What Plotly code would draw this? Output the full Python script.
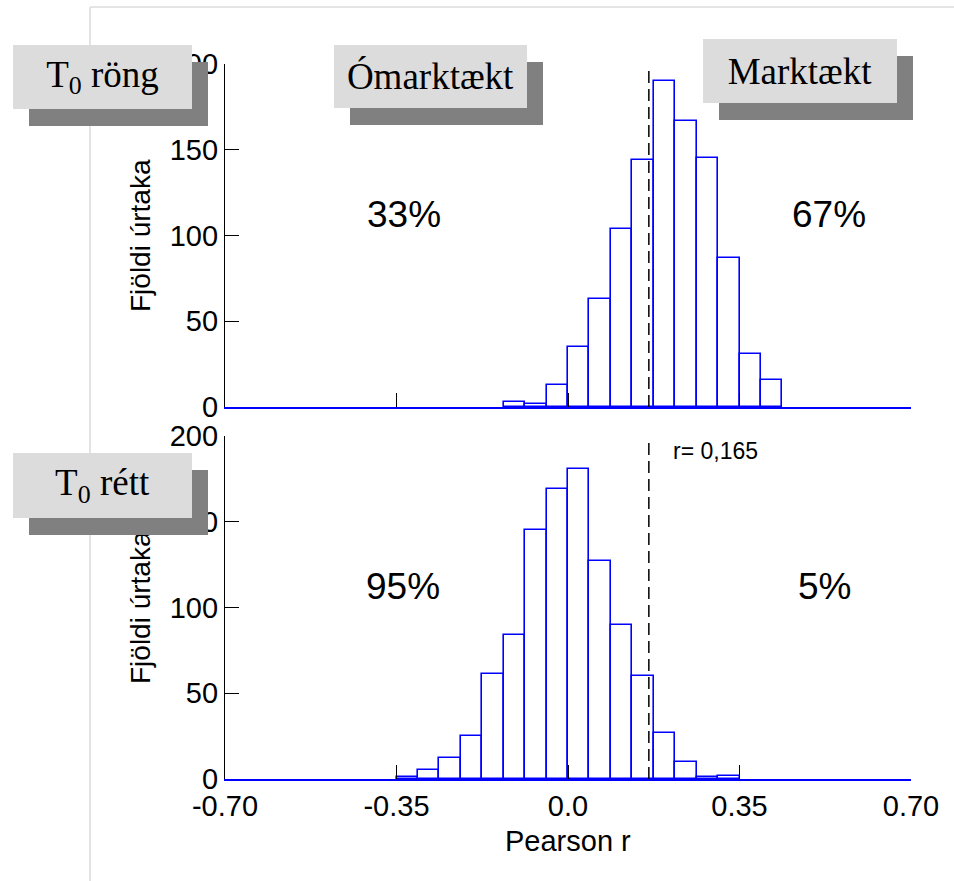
import plotly.graph_objects as go

# ---- data ----
bin_width = 0.04375
top_first_edge = -0.13125
top_counts = [3, 2, 13, 35, 63, 104, 144, 190, 167, 145, 87, 31, 16]
bottom_first_edge = -0.35
bottom_counts = [1, 5, 12, 25, 61, 84, 145, 169, 181, 127, 90, 60, 27, 10, 1, 2]
r_crit = 0.165
x_tickvals = [-0.70, -0.35, 0.0, 0.35, 0.70]
x_ticktext = ["-0.70", "-0.35", "0.0", "0.35", "0.70"]
y_tickvals = [0, 50, 100, 150, 200]
top_pcts = ["33%", "67%"]
bottom_pcts = ["95%", "5%"]
box_labels = ["T<sub>0</sub> röng", "Ómarktækt", "Marktækt", "T<sub>0</sub> rétt"]

top_x = [top_first_edge + (i + 0.5) * bin_width for i in range(len(top_counts))]
bot_x = [bottom_first_edge + (i + 0.5) * bin_width for i in range(len(bottom_counts))]

W, H = 954, 881
L, R, T, B = 225, 43, 64, 102
PW, PH = W - L - R, H - T - B


def px(xp):
    return (xp - L) / PW


def py(yp):
    return (H - B - yp) / PH


SANS = "Liberation Sans, Arial, sans-serif"
SERIF = "Liberation Serif, Times New Roman, serif"
BLUE = "#0000ff"

fig = go.Figure()
bar_style = dict(marker=dict(color="white", line=dict(color=BLUE, width=1.6)),
                 width=bin_width, showlegend=False, hoverinfo="skip")
fig.add_trace(go.Bar(x=top_x, y=top_counts, xaxis="x", yaxis="y", **bar_style))
fig.add_trace(go.Bar(x=bot_x, y=bottom_counts, xaxis="x2", yaxis="y2", **bar_style))

xax = dict(range=[-0.70, 0.70], tickvals=x_tickvals, ticktext=x_ticktext,
           ticks="inside", ticklen=14, tickwidth=1.2, tickcolor="black",
           showline=True, linecolor=BLUE, linewidth=2, showgrid=False, zeroline=False,
           tickfont=dict(family=SANS, size=29, color="black"))
yax = dict(range=[0, 200], tickvals=y_tickvals, ticks="inside", ticklen=14,
           tickwidth=1.2, tickcolor="black", showline=True, linecolor="black",
           linewidth=1.2, showgrid=False, zeroline=False,
           tickfont=dict(family=SANS, size=29, color="black"))

split_top = py(407)
split_bot = py(436)
fig.update_layout(
    width=W, height=H,
    margin=dict(l=L, r=R, t=T, b=B),
    paper_bgcolor="white", plot_bgcolor="white",
    bargap=0,
    xaxis=dict(xax, anchor="y", showticklabels=False),
    yaxis=dict(yax, domain=[split_top, 1]),
    xaxis2=dict(xax, anchor="y2"),
    yaxis2=dict(yax, domain=[0, split_bot]),
)

shapes = []
# light frame lines
shapes.append(dict(type="line", xref="paper", yref="paper", x0=px(90), x1=px(90),
                   y0=py(7), y1=py(H + 5), line=dict(color="#e4e4e4", width=2), layer="below"))
shapes.append(dict(type="line", xref="paper", yref="paper", x0=px(90), x1=px(W + 5),
                   y0=py(7), y1=py(7), line=dict(color="#e4e4e4", width=2), layer="below"))
# dashed critical lines
shapes.append(dict(type="line", xref="x", yref="y", x0=r_crit, x1=r_crit, y0=0, y1=198,
                   line=dict(color="black", width=1.5, dash="12px,6px")))
shapes.append(dict(type="line", xref="x2", yref="y2", x0=r_crit, x1=r_crit, y0=0, y1=198,
                   line=dict(color="black", width=1.5, dash="12px,6px")))
fig.update_layout(shapes=shapes)

ann = []
# y-axis titles
for yc in (236, 608):
    ann.append(dict(xref="paper", yref="paper", x=px(140), y=py(yc), text="Fjöldi úrtaka",
                    textangle=-90, showarrow=False, xanchor="center", yanchor="middle",
                    font=dict(family=SANS, size=28, color="black")))
# x-axis title
ann.append(dict(xref="paper", yref="paper", x=px(568), y=py(841), text="Pearson r",
                showarrow=False, xanchor="center", yanchor="middle",
                font=dict(family=SANS, size=29, color="black")))
# percentages
pct_font = dict(family=SANS, size=37, color="black")
ann.append(dict(xref="x", yref="y", x=-0.335, y=112, text=top_pcts[0], showarrow=False, font=pct_font))
ann.append(dict(xref="x", yref="y", x=0.532, y=112, text=top_pcts[1], showarrow=False, font=pct_font))
ann.append(dict(xref="x2", yref="y2", x=-0.337, y=112, text=bottom_pcts[0], showarrow=False, font=pct_font))
ann.append(dict(xref="x2", yref="y2", x=0.524, y=112, text=bottom_pcts[1], showarrow=False, font=pct_font))
# r label
ann.append(dict(xref="x2", yref="y2", x=0.21, y=191, text="r= 0,165", showarrow=False,
                xanchor="left", yanchor="middle", font=dict(family=SANS, size=23, color="black")))

# label boxes: (left, top, right, bottom) in pixels
boxes = [(13, 45, 192, 109), (334, 45, 527, 108), (703, 39, 897, 103), (13, 453, 192, 518)]
for (x0, y0, x1, y1) in boxes:
    ann.append(dict(xref="paper", yref="paper", x=px(x0 + 16), y=py(y0 + 17), text=" ",
                    showarrow=False, xanchor="left", yanchor="top", width=x1 - x0,
                    height=y1 - y0, bgcolor="#808080", borderwidth=0, borderpad=0))
for (x0, y0, x1, y1), lab in zip(boxes, box_labels):
    ann.append(dict(xref="paper", yref="paper", x=px(x0), y=py(y0), text=lab,
                    showarrow=False, xanchor="left", yanchor="top", width=x1 - x0,
                    height=y1 - y0, bgcolor="#dcdcdc", borderwidth=0, borderpad=0,
                    align="center", valign="middle",
                    font=dict(family=SERIF, size=37, color="black")))
fig.update_layout(annotations=ann)

fig.write_html("out.html")
